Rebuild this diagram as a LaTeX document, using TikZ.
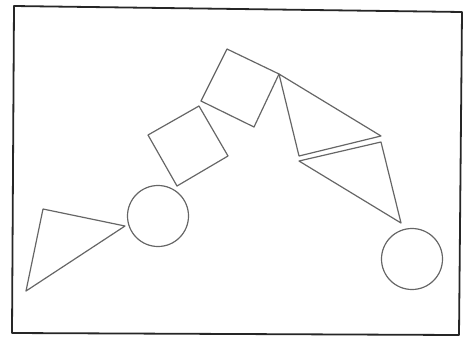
\documentclass[tikz,border=0pt]{standalone}
\usepackage{tikz}
\tikzset{
  sketchframe/.style={draw=black!85, line width=1.8pt, line join=round},
  sketchshape/.style={draw=black!60, line width=1.2pt, line join=round}
}
\begin{document}
\begin{tikzpicture}[x=1pt, y=-1pt]
  \useasboundingbox (0,0) rectangle (470,338);
  \draw[sketchframe] (14,6) -- (462,12) -- (459,335) -- (12,333) -- cycle;

  % left triangle and circle
  \draw[sketchshape] (43,209) -- (125,226) -- (26,291) -- cycle;
  \draw[sketchshape] (158,216) circle[radius=30.5];

  % the two squares
  \draw[sketchshape] (148,135) -- (199,106) -- (228,156) -- (177,186) -- cycle;
  \draw[sketchshape] (201,101) -- (227,49) -- (279,74) -- (254,127) -- cycle;

  % the two triangles on the right
  \draw[sketchshape] (279,74) -- (381,136) -- (299,156) -- cycle;
  \draw[sketchshape] (299,161) -- (381,142) -- (401,223) -- cycle;
  \draw[sketchshape] (412,259) circle[radius=30.5];
\end{tikzpicture}
\end{document}
